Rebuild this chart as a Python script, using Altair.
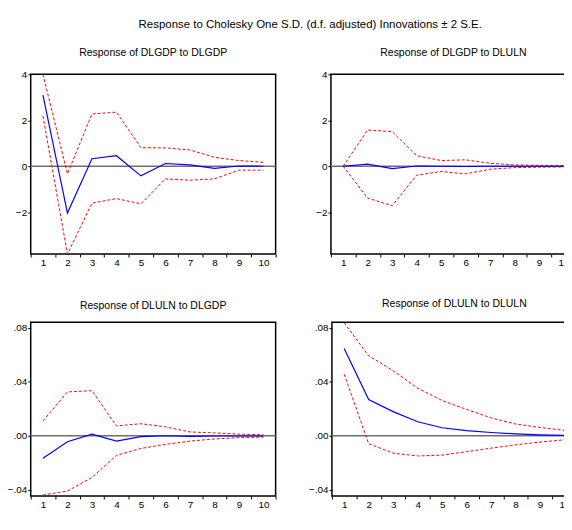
import altair as alt
import pandas as pd

steps = list(range(1, 11))

# Response of DLGDP to DLGDP
gdp_gdp_resp = [3.10, -2.04, 0.33, 0.46, -0.42, 0.12, 0.06, -0.09, 0.01, 0.00]
gdp_gdp_upper = [4.01, -0.33, 2.28, 2.36, 0.81, 0.80, 0.71, 0.39, 0.25, 0.17]
gdp_gdp_lower = [2.19, -3.83, -1.61, -1.41, -1.64, -0.55, -0.61, -0.55, -0.17, -0.17]

# Response of DLGDP to DLULN
gdp_uln_resp = [0.00, 0.09, -0.10, 0.01, 0.00, -0.01, 0.00, 0.00, 0.00, 0.00]
gdp_uln_upper = [0.00, 1.58, 1.51, 0.46, 0.25, 0.28, 0.13, 0.06, 0.04, 0.03]
gdp_uln_lower = [0.00, -1.39, -1.72, -0.39, -0.23, -0.33, -0.13, -0.06, -0.04, -0.03]

# Response of DLULN to DLGDP
uln_gdp_resp = [-0.0167, -0.0045, 0.0012, -0.0040, -0.0007, 0.0000, -0.0005, -0.0002, -0.0002, -0.0002]
uln_gdp_upper = [0.0110, 0.0325, 0.0334, 0.0073, 0.0089, 0.0066, 0.0028, 0.0021, 0.0012, 0.0007]
uln_gdp_lower = [-0.0440, -0.0410, -0.0310, -0.0146, -0.0094, -0.0064, -0.0040, -0.0024, -0.0014, -0.0010]

# Response of DLULN to DLULN
uln_uln_resp = [0.0647, 0.0268, 0.0179, 0.0104, 0.0059, 0.0038, 0.0024, 0.0014, 0.0007, 0.0002]
uln_uln_upper = [0.0838, 0.0593, 0.0482, 0.0353, 0.0261, 0.0195, 0.0132, 0.0087, 0.0061, 0.0040]
uln_uln_lower = [0.0456, -0.0059, -0.0129, -0.0150, -0.0144, -0.0118, -0.0092, -0.0068, -0.0047, -0.0030]

top_ticks = [-2, 0, 2, 4]
bottom_ticks = [-0.04, -0.02, 0.0, 0.02, 0.04, 0.06, 0.08]

FONT = "Liberation Sans Narrow, Liberation Sans, Arial"


def panel(title, resp, upper, lower, domain, tick_vals, label_expr, height):
    df = pd.DataFrame({
        "step": steps * 3,
        "value": resp + upper + lower,
        "series": ["Response"] * 10 + ["Upper"] * 10 + ["Lower"] * 10,
    })
    x = alt.X(
        "step:O",
        scale=alt.Scale(type="band", paddingInner=0, paddingOuter=0),
        axis=alt.Axis(title=None, labelAngle=0, tickBand="extent",
                      minExtent=16, maxExtent=16),
    )
    y = alt.Y(
        "value:Q",
        scale=alt.Scale(domain=domain, nice=False, zero=False),
        axis=alt.Axis(title=None, values=tick_vals, labelExpr=label_expr,
                      minExtent=23, maxExtent=23),
    )
    zero = alt.Chart(pd.DataFrame({"zero": [0]})).mark_rule(
        color="#6f6f6f", strokeWidth=1.5
    ).encode(y="zero:Q")
    base = alt.Chart(df)
    band = base.transform_filter(alt.datum.series != "Response").mark_line(
        color="#ff0000", strokeWidth=1, strokeDash=[3, 2]
    ).encode(x=x, y=y, detail="series:N")
    line = base.transform_filter(alt.datum.series == "Response").mark_line(
        color="#0000ff", strokeWidth=1.2
    ).encode(x=x, y=y)
    return alt.layer(zero, band, line).properties(
        width=248, height=height,
        title=alt.TitleParams(title, fontSize=10.6, font=FONT, fontWeight="normal",
                              color="#000", offset=11, anchor="middle"),
    )


top_expr = "format(datum.value, 'd')"
bottom_expr = "replace(format(datum.value, '.2f'), '0.', '.')"

p1 = panel("Response of DLGDP to DLGDP", gdp_gdp_resp, gdp_gdp_upper, gdp_gdp_lower,
           [-3.83, 4.01], top_ticks, top_expr, 182)
p2 = panel("Response of DLGDP to DLULN", gdp_uln_resp, gdp_uln_upper, gdp_uln_lower,
           [-3.83, 4.01], top_ticks, top_expr, 182)
p3 = panel("Response of DLULN to DLGDP", uln_gdp_resp, uln_gdp_upper, uln_gdp_lower,
           [-0.0447, 0.0842], bottom_ticks, bottom_expr, 176)
p4 = panel("Response of DLULN to DLULN", uln_uln_resp, uln_uln_upper, uln_uln_lower,
           [-0.0447, 0.0842], bottom_ticks, bottom_expr, 176)

chart = alt.vconcat(
    alt.hconcat(p1, p2, spacing=30),
    alt.hconcat(p3, p4, spacing=30),
    spacing=28,
).properties(
    title=alt.TitleParams(
        "Response to Cholesky One S.D. (d.f. adjusted) Innovations \u00b1 2 S.E.",
        fontSize=11.6, font=FONT, fontWeight="normal", color="#000",
        offset=17, anchor="middle", dx=18,
    ),
    padding={"top": 8, "left": -2, "right": -15, "bottom": -7},
).configure_view(
    stroke="#000", strokeWidth=1.5
).configure_axis(
    labelFont="Liberation Sans, Arial", labelFontSize=10, labelColor="#000",
    tickColor="#000", tickSize=3, labelPadding=1, domain=False, grid=False,
)

chart.save("out.html", embed_options={"renderer": "svg", "actions": False})
